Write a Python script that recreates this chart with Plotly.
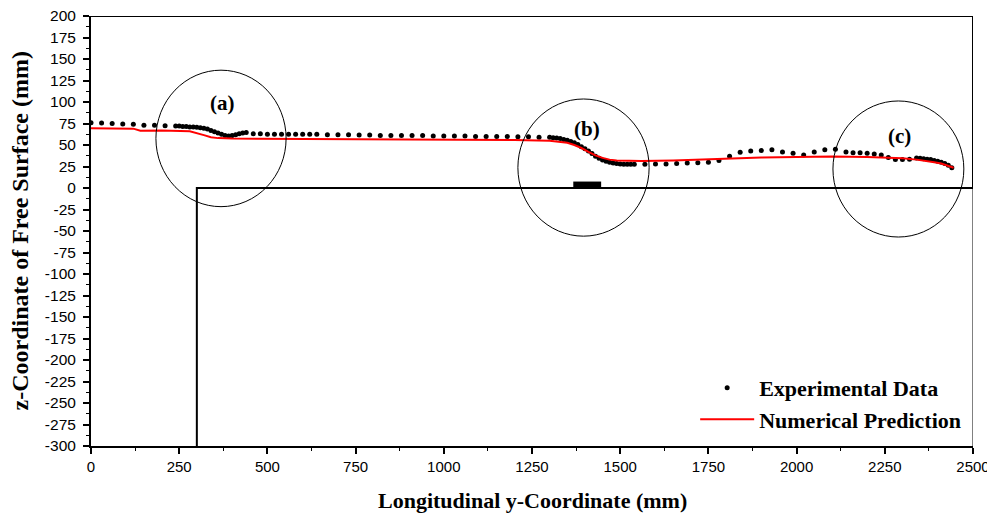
import plotly.graph_objects as go

# Experimental data (mm)
exp_x = [0, 30, 60, 90, 120, 150, 180, 210,
         240, 250, 260, 270, 280, 290, 300, 310, 320, 330, 340, 350, 360, 370, 380, 390, 400, 410, 420, 430, 440,
         460, 480, 500, 520, 540, 560, 580, 600, 620, 640,
         670, 700, 730, 760, 790, 820, 850, 880, 910, 940, 970, 1000, 1030, 1060, 1090, 1120, 1150, 1180, 1210, 1240, 1270,
         1300, 1310, 1320, 1330, 1340, 1350, 1360, 1370, 1380, 1390, 1400, 1410, 1420, 1430, 1440, 1450, 1460, 1470, 1480,
         1490, 1500, 1510, 1520, 1530, 1540,
         1570, 1600, 1630, 1660, 1690, 1720, 1750, 1780, 1810, 1840, 1870, 1900, 1930, 1960, 1990, 2020, 2050, 2080, 2110,
         2140, 2160, 2180, 2200, 2220, 2240, 2260, 2280, 2300, 2320,
         2340, 2350, 2360, 2370, 2380, 2390, 2400, 2410, 2420, 2430, 2440]
exp_y = [76, 75.5, 75, 74.5, 74, 73, 73, 72.5,
         72, 72, 71.5, 71.5, 71, 71, 70.5, 70, 69.5, 68.5, 67, 65.5, 64, 62.5, 61, 60.5, 61, 62, 63, 64, 64.5,
         63, 63, 62.5, 62.5, 62.5, 62.5, 62.5, 62.5, 62.5, 62.5,
         62, 62, 62, 61.5, 61.5, 61, 61, 61, 61, 61, 60.5, 60.5, 60.5, 60.5, 60, 60, 60, 60, 59.5, 59.5, 59,
         59, 58.5, 58, 57.5, 56.5, 55.5, 54, 52.5, 50.5, 48, 45.5, 43, 40, 37, 34.5, 32.5, 31, 30, 29,
         28.5, 28, 27.5, 27.5, 27.5, 27.5,
         27.5, 28, 28, 28.5, 29, 29.5, 30, 32, 37, 41.5, 43, 43.5, 44.5, 42, 40.5, 38.5, 42, 44.5, 45,
         42, 41, 41, 40.5, 39.5, 38.5, 35.5, 33, 33, 33.5,
         35, 34.5, 34, 33.5, 33, 32, 31, 30, 28.5, 26.5, 23.5]

# Numerical prediction (mm)
num_x = [0, 100, 120, 140, 160, 200, 280, 300, 320, 340, 360, 400, 600, 900, 1200, 1300, 1330, 1350, 1370, 1390,
         1410, 1430, 1450, 1470, 1490, 1520, 1560, 1650, 1725, 1800, 1900, 2000, 2100, 2200, 2260, 2300, 2340,
         2370, 2390, 2410, 2430, 2445]
num_y = [69.5, 69.5, 69, 66.5, 66.5, 67, 66, 64, 61.5, 59, 58, 57.5, 57.2, 56.8, 55.8, 55, 54, 52.5, 50, 46.5,
         42, 38, 35, 33, 32, 31.5, 31.5, 32, 33, 34.5, 35.5, 36, 36.5, 36, 35.2, 34.5, 33,
         31.5, 30, 28.5, 26, 23.5]

# Tick labels
x_ticks = [0, 250, 500, 750, 1000, 1250, 1500, 1750, 2000, 2250, 2500]
y_ticks = list(range(-300, 201, 25))
y_ticktext = [str(v) for v in y_ticks]  # plain hyphen-minus as in the original

# Highlighted regions
region_labels = ["(a)", "(b)", "(c)"]
region_label_x = [372, 1407, 2292]
region_label_y = [99, 69, 60]
circle_x0 = [184, 1210, 2103]
circle_x1 = [553, 1582, 2474]
circle_y0 = [-21.7, -56, -57]
circle_y1 = [137, 103.5, 101.2]

serif = "Liberation Serif"
sans = "Liberation Sans"

fig = go.Figure()
fig.add_trace(go.Scatter(x=exp_x, y=exp_y, mode="markers", name="<b>Experimental Data</b>",
                         marker=dict(color="black", size=5)))
fig.add_trace(go.Scatter(x=num_x, y=num_y, mode="lines", name="<b>Numerical Prediction</b>",
                         line=dict(color="#ff0000", width=2)))

shapes = []
# channel outline
shapes.append(dict(type="path", xref="x", yref="y",
                   path="M 300,-300 L 300,0 L 2500,0 L 2500,200 L 0,200",
                   line=dict(color="black", width=2)))
shapes.append(dict(type="line", xref="x", yref="y", x0=2500, x1=2500, y0=-300, y1=0,
                   line=dict(color="black", width=1)))
# obstacle
shapes.append(dict(type="rect", xref="x", yref="y", x0=1367, x1=1446, y0=0, y1=7.5,
                   fillcolor="black", line=dict(color="black", width=0)))
for i in range(3):
    shapes.append(dict(type="circle", xref="x", yref="y",
                       x0=circle_x0[i], x1=circle_x1[i], y0=circle_y0[i], y1=circle_y1[i],
                       line=dict(color="black", width=1)))

annotations = []
for i in range(3):
    annotations.append(dict(x=region_label_x[i], y=region_label_y[i], text=f"<b>{region_labels[i]}</b>",
                            showarrow=False, font=dict(family=serif, size=21, color="black")))
# axis titles
annotations.append(dict(xref="paper", yref="paper", x=0.5, y=-0.126, text="<b>Longitudinal y-Coordinate (mm)</b>",
                        showarrow=False, xanchor="center", yanchor="middle",
                        font=dict(family=serif, size=22, color="black")))
annotations.append(dict(xref="paper", yref="paper", x=-0.08, y=0.5, text="<b>z-Coordinate of Free Surface (mm)</b>",
                        showarrow=False, xanchor="center", yanchor="middle", textangle=-90,
                        font=dict(family=serif, size=24, color="black")))

# page body has an 8px margin, so the figure is 8px smaller and the margins are offset
fig.update_layout(
    width=987, height=508,
    margin=dict(l=83, r=22, t=8, b=70),
    paper_bgcolor="white", plot_bgcolor="white",
    shapes=shapes, annotations=annotations,
    showlegend=True,
    legend=dict(x=0.685, y=0.184, xanchor="left", yanchor="top",
                bgcolor="rgba(0,0,0,0)", font=dict(family=serif, size=22, color="black"),
                tracegroupgap=0, itemwidth=54),
    xaxis=dict(range=[0, 2500], tickvals=x_ticks, automargin=False, ticklabeloverflow="allow",
               ticks="outside", ticklen=6, tickwidth=1.5, tickcolor="black",
               showline=True, linecolor="black", linewidth=2, showgrid=False, zeroline=False,
               minor=dict(dtick=125, ticks="outside", ticklen=3, tickwidth=1, tickcolor="black", showgrid=False),
               tickfont=dict(family=sans, size=15, color="black")),
    yaxis=dict(range=[-300, 200], tickvals=y_ticks, ticktext=y_ticktext, automargin=False,
               ticklabeloverflow="allow",
               ticks="outside", ticklen=6, tickwidth=1.5, tickcolor="black", ticklabelstandoff=4,
               showline=True, linecolor="black", linewidth=2, showgrid=False, zeroline=False,
               minor=dict(dtick=12.5, ticks="outside", ticklen=3, tickwidth=1, tickcolor="black", showgrid=False),
               tickfont=dict(family=sans, size=15.5, color="black")),
)

fig.write_html("out.html")
